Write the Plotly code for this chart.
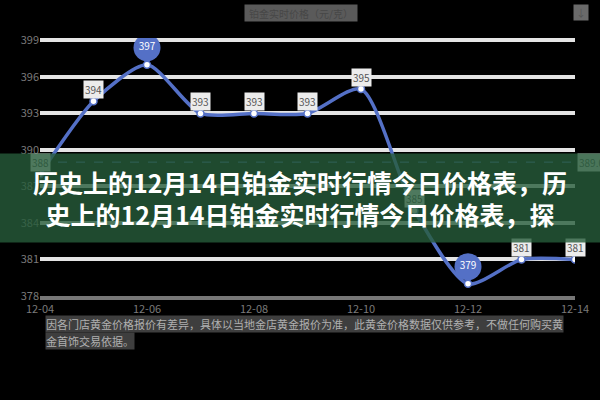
import plotly.graph_objects as go

# ---- data ----
dates = ["12-04", "12-05", "12-06", "12-07", "12-08", "12-09",
         "12-10", "12-11", "12-12", "12-13", "12-14"]
prices = [388, 394, 397, 393, 393, 393, 395, 385, 379, 381, 381]
y_ticks = [378, 381, 384, 387, 390, 393, 396, 399]
chart_title = "铂金实时价格（元/克）"
banner_lines = ["历史上的12月14日铂金实时行情今日价格表，历",
                "史上的12月14日铂金实时行情今日价格表，探"]
caption_lines = ["因各门店黄金价格报价有差异，具体以当地金店黄金报价为准，此黄金价格数据仅供参考，不做任何购买黄",
                 "金首饰交易依据。"]

BLUE = "#5470c6"
FONT = "Noto Sans CJK SC, Noto Sans, sans-serif"

imax = prices.index(max(prices))
imin = prices.index(min(prices))
avg = sum(prices) / len(prices)

fig = go.Figure()

# main line first (fixes category order)
fig.add_trace(go.Scatter(
    x=dates, y=prices, mode="lines",
    line=dict(color=BLUE, width=3.5, shape="spline", smoothing=0.7),
    hoverinfo="skip", showlegend=False))

# pin markers (max / min)
pin_x = [dates[imax], dates[imin]]
pin_v = [prices[imax], prices[imin]]
fig.add_trace(go.Scatter(
    x=pin_x, y=[v + 0.45 for v in pin_v], mode="markers",
    marker=dict(symbol="triangle-down", size=11, color=BLUE, line=dict(width=0)),
    hoverinfo="skip", showlegend=False))
fig.add_trace(go.Scatter(
    x=pin_x, y=[v + 1.4 for v in pin_v], mode="markers+text",
    marker=dict(symbol="circle", size=27, color=BLUE, line=dict(width=0)),
    text=[str(v) for v in pin_v], textposition="middle center",
    textfont=dict(color="white", size=10, family=FONT),
    hoverinfo="skip", showlegend=False))

# point markers on the line
fig.add_trace(go.Scatter(
    x=dates, y=prices, mode="markers",
    marker=dict(symbol="circle", size=7, color="white", line=dict(color=BLUE, width=1.5)),
    showlegend=False))

# average line
fig.add_shape(type="line", xref="paper", x0=0, x1=1, yref="y", y0=avg, y1=avg,
              line=dict(color=BLUE, width=1, dash="dash"), layer="below")

annotations = []
# point labels
for i, (d, v) in enumerate(zip(dates, prices)):
    if i in (imax, imin):
        continue
    annotations.append(dict(x=d, y=v, text=str(v), showarrow=False, yshift=12,
                            bgcolor="#ececec", borderpad=1,
                            font=dict(color="#555555", size=10, family=FONT)))
# avg label
annotations.append(dict(xref="paper", x=1, y=avg, yref="y", xanchor="left", xshift=2,
                        text=f"{avg:.1f}", showarrow=False, bgcolor="#d8d8d8",
                        font=dict(color="#555555", size=10, family=FONT)))
# title box at top
annotations.append(dict(xref="paper", yref="paper", x=0.488, y=1.13, text=chart_title,
                        showarrow=False, bgcolor="#5a5a5a", width=110, height=14,
                        font=dict(color="#474747", size=10, family=FONT)))
# toolbox icon
annotations.append(dict(xref="paper", yref="paper", x=1.026, y=1.13, text="↓",
                        showarrow=False, bgcolor="#6a6a6a", width=12, height=13,
                        font=dict(color="#555555", size=10, family=FONT)))
# caption
for line, yy in zip(caption_lines, [-0.110, -0.176]):
    annotations.append(dict(xref="paper", yref="paper", x=0.0093, y=yy,
                            xanchor="left", yanchor="middle",
                            text=line, showarrow=False, bgcolor="#3e3e3e", borderpad=0,
                            font=dict(color="#b0b0b0", size=11, family=FONT)))
# banner
annotations.append(dict(xref="paper", yref="paper", x=0.486, y=0.378,
                        xanchor="center", yanchor="middle",
                        text="<b>" + "<br>".join(banner_lines) + "</b>",
                        showarrow=False, width=600, height=88, borderpad=0,
                        bgcolor="rgba(39,92,59,0.8)",
                        font=dict(color="white", size=25, family=FONT)))

fig.update_layout(
    width=600, height=400, autosize=False,
    margin=dict(l=40, r=25, t=38, b=104),
    paper_bgcolor="black", plot_bgcolor="black",
    font=dict(family=FONT),
    annotations=annotations,
    showlegend=False,
)
fig.update_xaxes(
    type="category", categoryorder="array", categoryarray=dates,
    range=[0, len(dates) - 1],
    tickmode="array", tickvals=dates[::2], ticktext=dates[::2],
    showgrid=False, zeroline=False, showline=True, linecolor="#777777", linewidth=4,
    ticks="", tickfont=dict(color="#7a7a7a", size=11, family=FONT))
fig.update_yaxes(
    range=[y_ticks[0], y_ticks[-1] + 0.2], tickmode="array", tickvals=y_ticks,
    showgrid=True, gridcolor="#e4e4e4", gridwidth=4, zeroline=False, showline=False,
    ticks="", tickfont=dict(color="#7a7a7a", size=11, family=FONT))

fig.write_html("out.html", config={"displayModeBar": False},
               post_script="document.body.style.margin='0';document.body.style.background='black';")
